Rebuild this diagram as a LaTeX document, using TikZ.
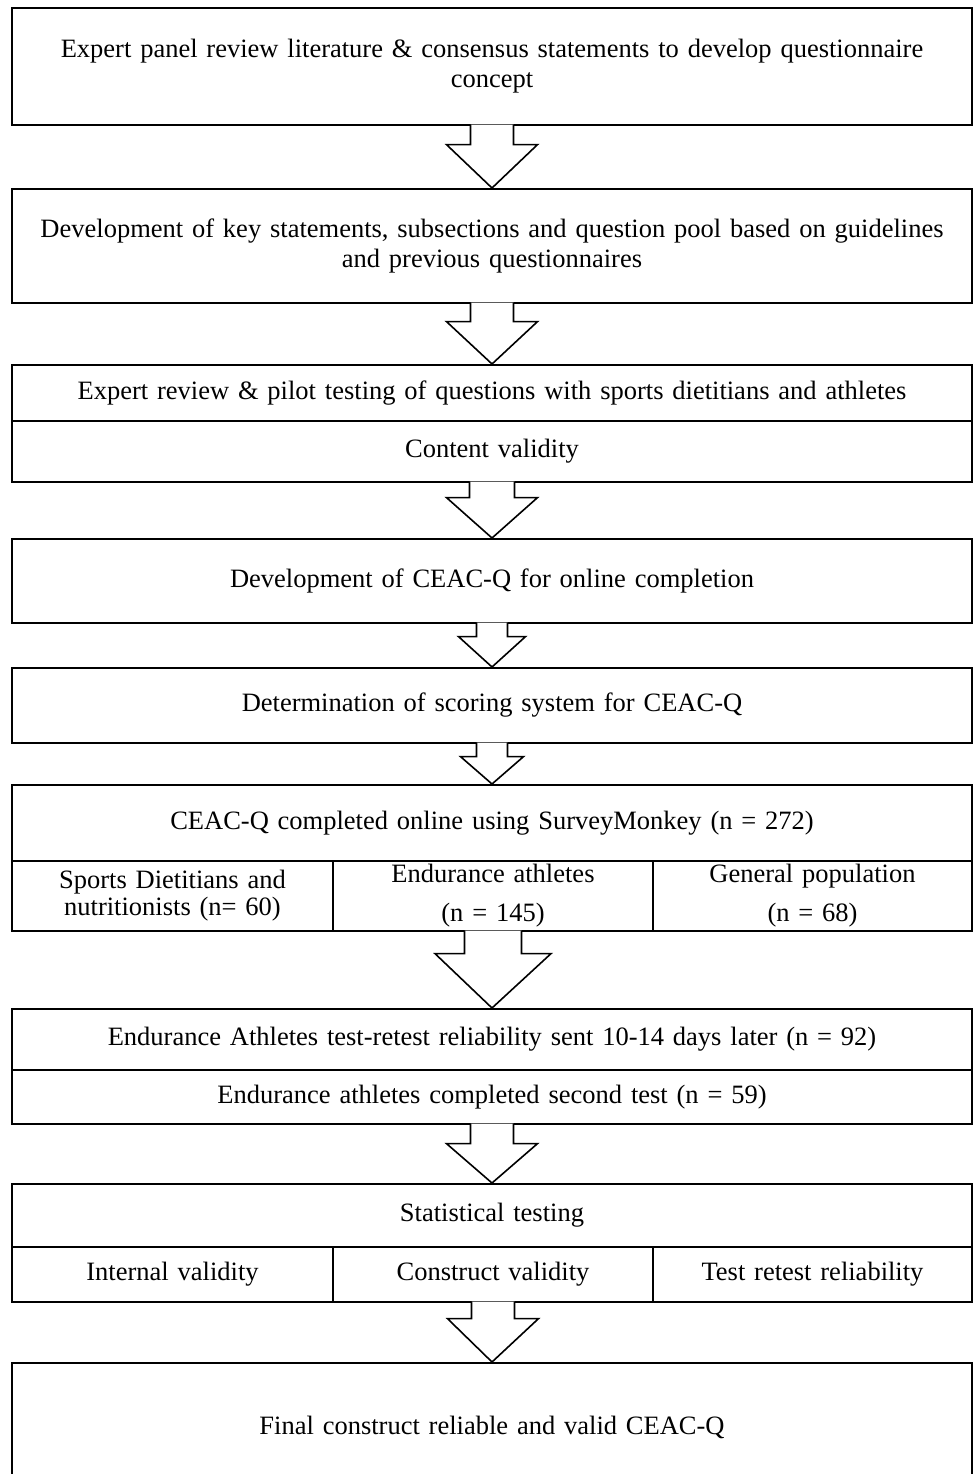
\documentclass[tikz,border=0pt]{standalone}
\usepackage{fontspec}
\setmainfont{Liberation Serif}
\usetikzlibrary{calc}

\tikzset{
  stage/.style={draw, line width=1.6pt, minimum width=960pt, text width=950pt,
    align=center, inner sep=0pt, anchor=north, font=\fontsize{26.5}{30}\selectfont},
  cell/.style={draw, line width=1.6pt, text width=310pt, align=center,
    inner sep=0pt, anchor=north, font=\fontsize{26.5}{27}\selectfont},
  flowarrow/.style={draw, fill=white, line width=1.6pt, line join=miter}
}
% hollow block arrow: from, to, half shaft, half head, shaft length
\newcommand{\flowarrow}[5]{%
  \draw[flowarrow] ($(#1.south)+(-#3,-1)$) -- ($(#1.south)+(-#3,#5)$)
    -- ($(#1.south)+(-#4,#5)$) -- (#2.north) -- ($(#1.south)+(#4,#5)$)
    -- ($(#1.south)+(#3,#5)$) -- ($(#1.south)+(#3,-1)$);}

\begin{document}
\begin{tikzpicture}[x=1pt, y=-1pt]
  \clip (0,0) rectangle (973,1474);
  \fill[white] (0,0) rectangle (973,1474);

  \node[stage, minimum height=117pt] (concept) at (492,7)
    {Expert panel review literature \& consensus statements to develop questionnaire\\ concept};
  \node[stage, minimum height=114pt] (pool) at (492,188)
    {Development of key statements, subsections and question pool based on guidelines\\ and previous questionnaires};
  \node[stage, minimum height=56pt] (pilot) at (492,364)
    {Expert review \& pilot testing of questions with sports dietitians and athletes};
  \node[stage, minimum height=61pt] (content) at (492,420) {Content validity};
  \node[stage, minimum height=84pt] (online) at (492,538)
    {Development of CEAC-Q for online completion};
  \node[stage, minimum height=75pt] (scoring) at (492,667)
    {Determination of scoring system for CEAC-Q};
  \node[stage, minimum height=76pt] (survey) at (492,784)
    {CEAC-Q completed online using SurveyMonkey (n = 272)};
  \node[cell, minimum width=321pt, minimum height=70pt] (dietitians) at (172.5,860)
    {Sports Dietitians and\\ nutritionists (n= 60)};
  \node[cell, minimum width=320pt, minimum height=70pt] (athletes) at (493,860)
    {Endurance athletes\\[12pt] (n = 145)};
  \node[cell, minimum width=319pt, minimum height=70pt] (general) at (812.5,860)
    {General population\\[12pt] (n = 68)};
  \node[stage, minimum height=61pt] (retest) at (492,1008)
    {Endurance Athletes test-retest reliability sent 10-14 days later (n = 92)};
  \node[stage, minimum height=54pt] (second) at (492,1069)
    {Endurance athletes completed second test (n = 59)};
  \node[stage, minimum height=63pt] (stats) at (492,1183) {Statistical testing};
  \node[cell, minimum width=321pt, minimum height=55pt] (internal) at (172.5,1246)
    {Internal validity};
  \node[cell, minimum width=320pt, minimum height=55pt] (construct) at (493,1246)
    {Construct validity};
  \node[cell, minimum width=319pt, minimum height=55pt] (retestrel) at (812.5,1246)
    {Test retest reliability};
  \node[stage, minimum height=130pt] (final) at (492,1362)
    {Final construct reliable and valid CEAC-Q};

  \flowarrow{concept}{pool}{21.5}{45.5}{19}
  \flowarrow{pool}{pilot}{21.5}{45.5}{18}
  \flowarrow{content}{online}{22.5}{45.5}{15}
  \flowarrow{online}{scoring}{15.5}{33.5}{13}
  \flowarrow{scoring}{survey}{15.5}{31.5}{13}
  \flowarrow{athletes}{retest}{28.5}{58}{22}
  \flowarrow{second}{stats}{21.5}{45.5}{19}
  \flowarrow{construct}{final}{21.5}{45.5}{16}
\end{tikzpicture}
\end{document}
